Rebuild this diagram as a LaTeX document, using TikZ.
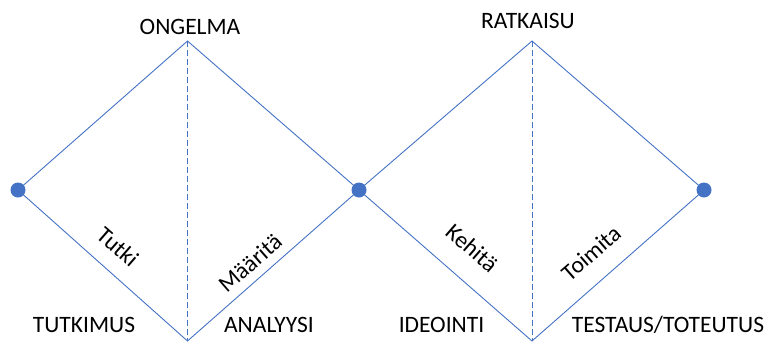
\documentclass[tikz,border=0pt]{standalone}
\usepackage{fontspec}
\setmainfont{Carlito}
\definecolor{edgeblue}{HTML}{4472C4}
\tikzset{
  edge/.style={draw=edgeblue, line width=0.9pt},
  axis/.style={draw=edgeblue, line width=0.9pt, dash pattern=on 6pt off 3pt},
  dot/.style={circle, fill=edgeblue, inner sep=0pt, minimum size=15pt},
  phase/.style={font=\fontsize{23.5}{28}\selectfont, inner sep=0pt},
  verb/.style={font=\fontsize{23.5}{28}\selectfont, inner sep=0pt}
}
\begin{document}
\begin{tikzpicture}[x=1pt,y=-1pt]
\useasboundingbox (0,0) rectangle (768,341);
% diamond corners
\coordinate (p1) at (18,190);
\coordinate (p2) at (359,190);
\coordinate (p3) at (704,190);
\coordinate (t1) at (187.5,41);
\coordinate (b1) at (187.5,341);
\coordinate (t2) at (532,41);
\coordinate (b2) at (532,341);
% outlines of the two diamonds
\draw[edge] (p1) -- (t1) -- (p2) -- (t2) -- (p3) -- (b2) -- (p2) -- (b1) -- cycle;
% dashed middle axes
\draw[axis] (t1) -- (b1);
\draw[axis] (t2) -- (b2);
% end points
\node[dot] (d1) at (p1) {};
\node[dot] (d2) at (p2) {};
\node[dot] (d3) at (p3) {};
% headings
\node[phase] (ongelma) at (190,27) {ONGELMA};
\node[phase] (ratkaisu) at (528,21) {RATKAISU};
\node[phase] (tutkimus) at (84,325) {TUTKIMUS};
\node[phase] (analyysi) at (269,325) {ANALYYSI};
\node[phase] (ideointi) at (441.5,325) {IDEOINTI};
\node[phase] (testaus) at (668,325) {TESTAUS/TOTEUTUS};
% activities along the lower edges
\node[verb, rotate=-41] (tutki) at (118,247) {Tutki};
\node[verb, rotate=41] (maarita) at (250,263) {Määritä};
\node[verb, rotate=-41] (kehita) at (472,248) {Kehitä};
\node[verb, rotate=41] (toimita) at (591,253) {Toimita};
\end{tikzpicture}
\end{document}
